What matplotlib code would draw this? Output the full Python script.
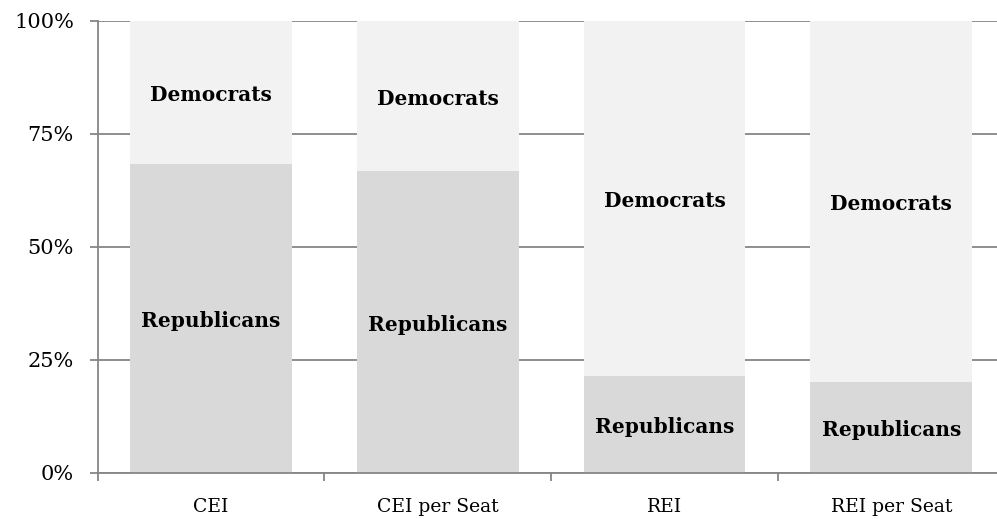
import matplotlib.pyplot as plt
from matplotlib.ticker import FixedLocator, PercentFormatter

# Share of each index going to each party (percent)
categories = ["CEI", "CEI per Seat", "REI", "REI per Seat"]
republicans = [68.4, 66.7, 21.5, 20.1]
democrats = [100 - r for r in republicans]

REP_COLOR = "#d9d9d9"
DEM_COLOR = "#f2f2f2"
AXIS_COLOR = "#868686"

plt.rcParams["font.family"] = ["DejaVu Serif"]

fig = plt.figure(figsize=(9.97, 5.19), dpi=100)
ax = fig.add_axes([97.6 / 997, 1 - 472.7 / 519, 907 / 997, 452 / 519])

x = list(range(len(categories)))
width = 0.714
ax.bar(x, republicans, width, color=REP_COLOR, zorder=2)
ax.bar(x, democrats, width, bottom=republicans, color=DEM_COLOR, zorder=2)

# Party names centred in each segment (nudged slightly down)
nudge = 0.6
for xi, r, d in zip(x, republicans, democrats):
    ax.text(xi, r / 2 - nudge, "Republicans", ha="center", va="center",
            fontsize=14.5, fontweight="bold", zorder=3)
    ax.text(xi, r + d / 2 - nudge, "Democrats", ha="center", va="center",
            fontsize=14.5, fontweight="bold", zorder=3)

ax.set_xlim(-0.5, len(categories) - 0.5)
ax.set_ylim(0, 100)
ax.set_yticks([0, 25, 50, 75, 100])
ax.yaxis.set_major_formatter(PercentFormatter(decimals=0))
ax.grid(axis="y", color=AXIS_COLOR, linewidth=1.3, zorder=1)

ax.set_xticks(x)
ax.set_xticklabels(categories)
ax.xaxis.set_minor_locator(FixedLocator([i - 0.5 for i in range(len(categories))]))
ax.tick_params(axis="x", which="major", length=0, pad=18, labelsize=13.5)
ax.tick_params(axis="x", which="minor", length=6, width=1.3, color=AXIS_COLOR)
ax.tick_params(axis="y", length=6, width=1.3, color=AXIS_COLOR, labelsize=15, pad=11)

for side in ("top", "right"):
    ax.spines[side].set_visible(False)
for side in ("left", "bottom"):
    ax.spines[side].set_color(AXIS_COLOR)
    ax.spines[side].set_linewidth(1.3)

fig.savefig("out.png", dpi=100)
